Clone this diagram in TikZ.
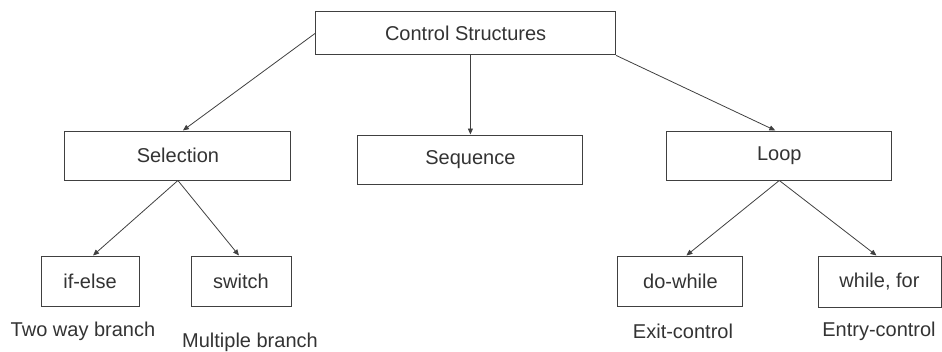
\documentclass[tikz,border=0pt]{standalone}
\usepackage{fontspec}
\setmainfont{Liberation Sans}
\usetikzlibrary{arrows.meta}

\definecolor{inkline}{HTML}{404040}
\definecolor{inktext}{HTML}{333333}

\begin{document}
\begin{tikzpicture}[x=1pt,y=-1pt,
  box/.style={draw=inkline, line width=1pt, inner sep=0pt, text=inktext,
              font=\fontsize{20}{24}\selectfont},
  caption/.style={inner sep=0pt, text=inktext, font=\fontsize{20}{24}\selectfont},
  link/.style={draw=inkline, line width=0.8pt,
               -{Triangle[length=6pt,width=5pt]}}]

  \useasboundingbox (0,0) rectangle (942,351);

  % root
  \node[box, minimum width=300pt, minimum height=43pt] (cs) at (465.6,33.4) {Control Structures};

  % second level
  \node[box, minimum width=226pt, minimum height=49pt] (sel)  at (177.9,155.5) {Selection};
  \node[box, minimum width=225pt, minimum height=49pt] (seq)  at (470.4,159.5) {Sequence};
  \node[box, minimum width=225pt, minimum height=49pt] (loop) at (779.3,155.5) {Loop};

  % leaves
  \node[box, minimum width=98pt,  minimum height=50pt] (ifelse)   at (90,281)    {if-else};
  \node[box, minimum width=100pt, minimum height=50pt] (switch)   at (241,281)   {switch};
  \node[box, minimum width=125pt, minimum height=50pt] (dowhile)  at (680.4,281) {do-while};
  \node[box, minimum width=123pt, minimum height=51pt] (whilefor) at (879.5,281.5) {while, for};

  % captions under the leaves
  \node[caption] (twoway)   at (83,331)  {Two way branch};
  \node[caption] (multiple) at (250,342) {Multiple branch};
  \node[caption] (exitc)    at (683,331) {Exit-control};
  \node[caption] (entryc)   at (879,331) {Entry-control};

  % connectors
  \draw[link] (cs.west) -- ([xshift=5pt]sel.north);
  \draw[link] (cs.south -| seq.north) -- (seq.north);
  \draw[link] (cs.south east) -- ([xshift=-4pt]loop.north);

  \draw[link] (sel.south) -- ([xshift=3pt]ifelse.north);
  \draw[link] (sel.south) -- ([xshift=-2pt]switch.north);

  \draw[link] (loop.south) -- ([xshift=6pt]dowhile.north);
  \draw[link] (loop.south) -- ([xshift=-3pt]whilefor.north);
\end{tikzpicture}
\end{document}
